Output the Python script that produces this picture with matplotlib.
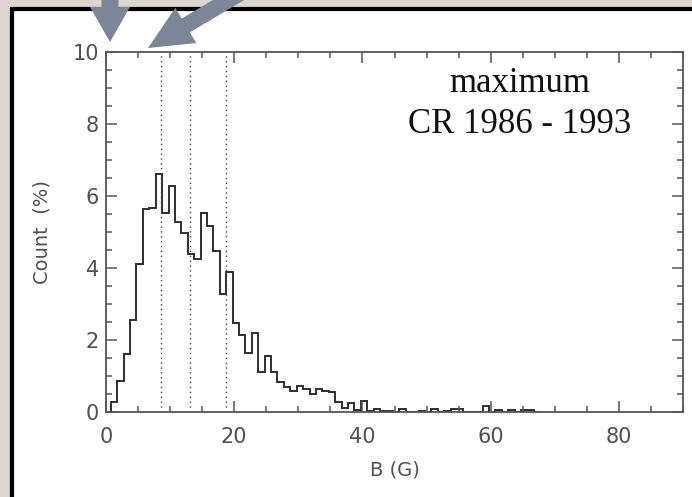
import matplotlib.pyplot as plt
import numpy as np
from matplotlib.patches import Rectangle, FancyArrow

# histogram of B (G), 1 G bins starting at 0.75 G, values in %
bin_start = 0.75
bin_width = 1.0
count_pct = [0.27, 0.85, 1.60, 2.54, 4.11, 5.63, 5.67, 6.60, 5.52, 6.28,
             5.26, 4.96, 4.37, 4.23, 5.52, 5.16, 4.46, 3.28, 3.88, 2.46,
             2.12, 1.63, 2.18, 1.11, 1.55, 1.11, 0.83, 0.68, 0.57, 0.71,
             0.62, 0.49, 0.62, 0.57, 0.54, 0.27, 0.09, 0.25, 0.04, 0.29,
             0.02, 0.08, 0.02, 0.02, 0.00, 0.06, 0.00, 0.00, 0.02, 0.00,
             0.07, 0.00, 0.02, 0.07, 0.07, 0.00, 0.00, 0.00, 0.15, 0.00,
             0.03, 0.00, 0.03, 0.00, 0.04, 0.04, 0.00]
# dotted reference lines (G)
ref_lines = [8.6, 13.1, 18.7]

title_lines = ['maximum', 'CR 1986 - 1993']

W, H = 692, 497
fig = plt.figure(figsize=(W / 100, H / 100), dpi=100)
fig.patch.set_facecolor('#dbd6ce')

# white slide panel with black border
bg = fig.add_axes([0, 0, 1, 1], zorder=-1)
bg.set_xlim(0, W)
bg.set_ylim(H, 0)
bg.axis('off')
bg.add_patch(Rectangle((12, 9), 700, 500, facecolor='white',
                       edgecolor='black', lw=3))

# main plot
ax = fig.add_axes([106 / W, 1 - 411.5 / H, (683 - 106) / W, (411.5 - 52) / H])
ax.set_facecolor('none')
edges = bin_start + bin_width * np.arange(len(count_pct) + 1)
ax.stairs(count_pct, edges, color='#2e2e2e', lw=1.4)
for xv in ref_lines:
    ax.axvline(xv, color='#444444', lw=1.0, ls=(0, (1, 2.5)))

ax.set_xlim(0, 90)
ax.set_ylim(0, 10)
ax.set_xticks([0, 20, 40, 60, 80])
ax.set_xticks(np.arange(0, 91, 5), minor=True)
ax.set_yticks([0, 2, 4, 6, 8, 10])
ax.set_yticks(np.arange(0, 10.1, 0.5), minor=True)
for s in ax.spines.values():
    s.set_color('#555555')
    s.set_linewidth(1.3)
ax.tick_params(which='both', direction='in', top=True, right=True,
               color='#555555', width=1.1, labelcolor='#505050', labelsize=15)
ax.tick_params(which='major', length=8)
ax.tick_params(which='minor', length=4)
ax.tick_params(axis='x', pad=11)
ax.tick_params(axis='y', pad=5)

ax.set_xlabel('B (G)', fontsize=14, color='#505050')
ax.xaxis.set_label_coords(0.5, (411.5 - 470) / 359.5)
ax.xaxis.label.set_va('center')
ax.set_ylabel('Count  (%)', fontsize=14, color='#505050')
ax.yaxis.set_label_coords((42 - 106) / 577, 0.5)
ax.yaxis.label.set_va('center')

bg.text(520, 92, title_lines[0], fontsize=25, family='Liberation Serif',
        ha='center', va='baseline', color='#111111')
bg.text(520, 133, title_lines[1], fontsize=25, family='Liberation Serif',
        ha='center', va='baseline', color='#111111')

# arrows on top
top = fig.add_axes([0, 0, 1, 1], zorder=5)
top.set_xlim(0, W)
top.set_ylim(H, 0)
top.axis('off')
arrow_col = '#7b8796'
top.add_patch(FancyArrow(110, -12, 0, 54, width=17, head_width=40,
                         head_length=35, length_includes_head=True,
                         color=arrow_col, lw=0))
top.add_patch(FancyArrow(247, -11, -99, 59, width=16, head_width=41,
                         head_length=44, length_includes_head=True,
                         color=arrow_col, lw=0))

fig.savefig('out.png', dpi=100)
